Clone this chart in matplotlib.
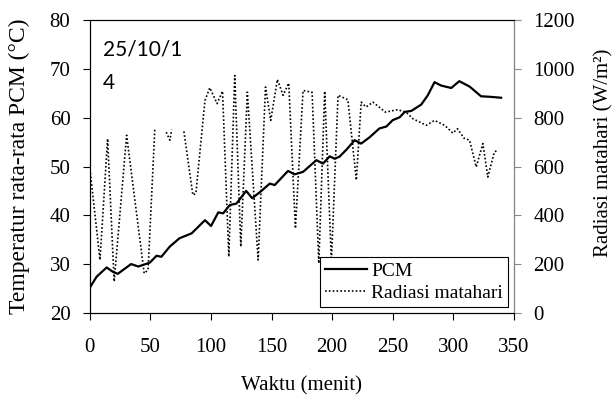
import matplotlib
matplotlib.use("Agg")
import matplotlib.pyplot as plt
import numpy as np

plt.rcParams['font.family'] = ['Liberation Serif', 'DejaVu Serif']

# PCM temperature (left axis)
pcm_t = [0, 5.5, 13.8, 19, 23, 34, 40, 49.5, 55, 59, 66, 74, 84, 95, 100, 106, 110,
         115.5, 121, 129, 134, 141.6, 148.5, 152.6, 163.6, 169, 176, 187, 192.5, 198,
         202, 206, 212, 218.6, 224, 231, 239, 244.8, 250, 255.8, 260, 265.4, 273.6,
         279, 284.6, 290, 298.4, 305, 313.5, 323, 330, 339.6]
pcm_temp = [25.2, 27.4, 29.3, 28.4, 28, 30, 29.5, 30.3, 31.7, 31.5, 33.6, 35.3, 36.3,
            39, 37.8, 40.6, 40.4, 42.1, 42.4, 45, 43.5, 45, 46.5, 46.2, 49.1, 48.4,
            48.9, 51.3, 50.6, 52.1, 51.6, 52, 53.5, 55.4, 54.7, 56, 57.8, 58.2, 59.5,
            60.1, 61.2, 61.4, 62.7, 64.6, 67.3, 66.6, 66.1, 67.5, 66.4, 64.4, 64.3, 64.1]

# solar radiation (right axis), NaN = missing reading
rad_t = [0, 8.3, 14.6, 20, 30.3, 44.8, 48, 53.6, 58, 63, 66, 67.5, 72, 77.6, 85, 87.5,
         95, 99, 105, 109.5, 114.7, 119.6, 124.6, 130, 138.9, 145, 149.3, 154.8, 159.5,
         164.2, 169.7, 176, 183.5, 189, 193.9, 199.4, 204.9, 213, 220, 224, 228, 233.7,
         244, 254, 261, 266.7, 277.8, 284.6, 292.9, 299.7, 303.5, 309, 313.5, 319,
         324.5, 328.6, 334, 337]
rad = [590, 217, 714, 128, 728, 162, 176, 755, np.nan, 741, 708, 751, np.nan, 744, 483,
       490, 871, 923, 858, 909, 230, 973, 271, 905, 217, 926, 789, 957, 892, 942, 346,
       912, 904, 203, 909, 210, 892, 874, 544, 864, 844, 864, 823, 833, 823, 796, 769,
       789, 769, 737, 755, 716, 708, 598, 694, 557, 660, 667]

fig = plt.figure(figsize=(6.16, 3.96), dpi=100)
ax = fig.add_axes([0.146, 0.21, 0.688, 0.739])
ax2 = ax.twinx()

l1, = ax.plot(pcm_t, pcm_temp, color='black', lw=1.6, label='PCM')
l2, = ax2.plot(rad_t, rad, color='black', lw=1.2, linestyle=(0, (1, 1.3)),
               label='Radiasi matahari')

ax.set_xlim(0, 350)
ax.set_ylim(20, 80)
ax2.set_ylim(0, 1200)
ax.set_xticks(np.arange(0, 351, 50))
ax.set_yticks(np.arange(20, 81, 10))
ax2.set_yticks(np.arange(0, 1201, 200))

ax.tick_params(direction='out', length=5, labelsize=15, top=False)
ax.tick_params(axis='x', pad=13)
ax.tick_params(axis='y', pad=9)
ax2.tick_params(direction='out', length=5, labelsize=15, color='#888888', pad=9)
ax2.spines['right'].set_color('#888888')

ax.set_xlabel('Waktu (menit)', fontsize=15)
ax.xaxis.set_label_coords(0.5, -0.215)
ax.set_ylabel('Temperatur rata-rata PCM (°C)', fontsize=17)
ax.yaxis.set_label_coords(-0.1415, 0.5)
ax2.set_ylabel('Radiasi matahari (W/m²)', fontsize=15)
ax2.yaxis.set_label_coords(1.189, 0.546)

ax.text(0.03, 0.935, '25/10/1\n4', transform=ax.transAxes, fontsize=15,
        family=['Lato', 'DejaVu Sans'], va='top', ha='left', linespacing=1.85)

leg = ax2.legend([l1, l2], ['PCM', 'Radiasi matahari'], loc='lower right',
                 bbox_to_anchor=(0.986, 0.02), borderaxespad=0, fontsize=14,
                 fancybox=False, framealpha=1, edgecolor='black',
                 handlelength=2.2, handletextpad=0.2, borderpad=0.25, labelspacing=0.25)
leg.get_frame().set_linewidth(0.8)

fig.savefig('out.png', dpi=100)
